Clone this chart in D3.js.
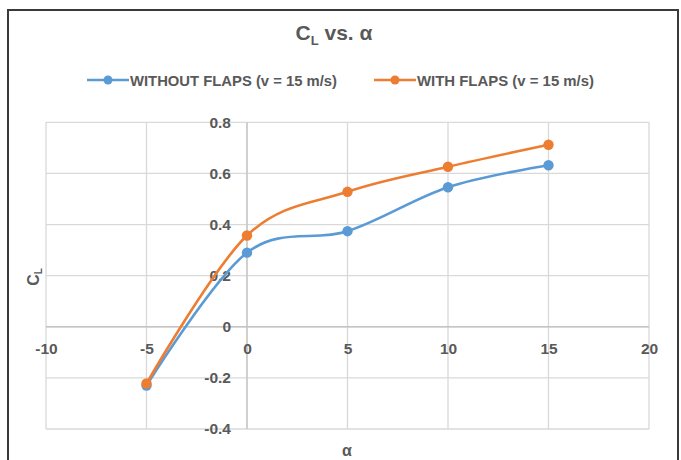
<!DOCTYPE html>
<html>
<head>
<meta charset="utf-8">
<script src="https://cdn.jsdelivr.net/npm/d3@7"></script>
<style>
  html, body { margin: 0; padding: 0; background: #fff; }
  svg { display: block; }
  text { font-family: "Liberation Sans Narrow", "Liberation Sans", Arial, sans-serif; font-weight: bold; fill: #595959; }
</style>
</head>
<body>
<svg id="chart" width="681" height="460"></svg>
<script>
// Angle of attack (degrees)
const alpha = [-5, 0, 5, 10, 15];
// Lift coefficient, no flaps
const clWithoutFlaps = [-0.23, 0.29, 0.374, 0.546, 0.632];
// Lift coefficient, flaps deployed
const clWithFlaps = [-0.222, 0.357, 0.528, 0.626, 0.712];

const seriesNames = ["WITHOUT FLAPS (v = 15 m/s)", "WITH FLAPS (v = 15 m/s)"];
const seriesColors = ["#5B9BD5", "#ED7D31"];

const xTicks = [-10, -5, 0, 5, 10, 15, 20];
const yTicks = [-0.4, -0.2, 0, 0.2, 0.4, 0.6, 0.8];

const svg = d3.select("#chart");

// outer frame
svg.append("rect")
  .attr("x", 8).attr("y", 10)
  .attr("width", 670).attr("height", 460)
  .attr("fill", "#fff")
  .attr("stroke", "#3a3a3a")
  .attr("stroke-width", 2);

const x = d3.scaleLinear().domain([-10, 20]).range([46, 649]);
const y = d3.scaleLinear().domain([-0.4, 0.8]).range([429, 122.3]);

// gridlines
const grid = svg.append("g").attr("stroke", "#d9d9d9").attr("stroke-width", 1.3);
grid.selectAll("line.h").data(yTicks).join("line")
  .attr("x1", x(-10)).attr("x2", x(20))
  .attr("y1", d => y(d)).attr("y2", d => y(d));
grid.selectAll("line.v").data(xTicks).join("line")
  .attr("y1", y(-0.4)).attr("y2", y(0.8))
  .attr("x1", d => x(d)).attr("x2", d => x(d));

// axes crossing at the origin
svg.append("line")
  .attr("x1", x(-10)).attr("x2", x(20))
  .attr("y1", y(0)).attr("y2", y(0))
  .attr("stroke", "#c4c4c4").attr("stroke-width", 1.3);
svg.append("line")
  .attr("x1", x(0)).attr("x2", x(0))
  .attr("y1", y(-0.4)).attr("y2", y(0.8))
  .attr("stroke", "#c4c4c4").attr("stroke-width", 1.3);

// plain hyphen for negatives
const fmtY = d => d === 0 ? "0" : d.toFixed(1);
const fmtX = d => String(d);

// y tick labels, sitting left of the vertical axis
const yAxis = d3.axisLeft(y).tickValues(yTicks).tickFormat(fmtY).tickSize(0).tickPadding(16);
const gy = svg.append("g").attr("transform", `translate(${x(0)},0)`).call(yAxis);
gy.select(".domain").remove();
gy.attr("font-family", null).attr("font-size", null);
gy.selectAll("text").attr("font-size", 15.5).attr("fill", "#595959");

// x tick labels, below the horizontal axis
const xAxis = d3.axisBottom(x).tickValues(xTicks).tickFormat(fmtX).tickSize(0).tickPadding(16);
const gx = svg.append("g").attr("transform", `translate(0,${y(0)})`).call(xAxis);
gx.select(".domain").remove();
gx.attr("font-family", null).attr("font-size", null);
gx.selectAll("text").attr("font-size", 15.5).attr("fill", "#595959");

// series
const series = [clWithoutFlaps, clWithFlaps].map((vals, i) => ({
  name: seriesNames[i],
  color: seriesColors[i],
  points: alpha.map((a, j) => ({ a, cl: vals[j] }))
}));

const line = d3.line()
  .x(d => x(d.a))
  .y(d => y(d.cl))
  .curve(d3.curveCatmullRom.alpha(0));

const sg = svg.append("g").selectAll("g").data(series).join("g");
sg.append("path")
  .attr("d", d => line(d.points))
  .attr("fill", "none")
  .attr("stroke", d => d.color)
  .attr("stroke-width", 2.6)
  .attr("stroke-linecap", "round");
sg.selectAll("circle").data(d => d.points.map(p => ({ ...p, color: d.color }))).join("circle")
  .attr("cx", d => x(d.a)).attr("cy", d => y(d.cl))
  .attr("r", 5.2)
  .attr("fill", d => d.color);

// title
const title = svg.append("text")
  .attr("x", 334).attr("y", 40)
  .attr("text-anchor", "middle")
  .attr("font-size", 21);
title.append("tspan").text("C");
title.append("tspan").attr("font-size", 13).attr("dy", 5).text("L");
title.append("tspan").attr("dy", -5).text(" vs. α");

// legend
const legendItems = [
  { x0: 87, tx: 130, w: 207 },
  { x0: 374, tx: 417, w: 177 }
];
const lg = svg.append("g").selectAll("g").data(series).join("g");
lg.append("line")
  .attr("x1", (d, i) => legendItems[i].x0).attr("x2", (d, i) => legendItems[i].x0 + 42)
  .attr("y1", 80).attr("y2", 80)
  .attr("stroke", d => d.color).attr("stroke-width", 2.6);
lg.append("circle")
  .attr("cx", (d, i) => legendItems[i].x0 + 21).attr("cy", 80)
  .attr("r", 4.5).attr("fill", d => d.color);
lg.append("text")
  .attr("x", (d, i) => legendItems[i].tx).attr("y", 85.5)
  .attr("font-size", 15)
  .attr("textLength", (d, i) => legendItems[i].w)
  .attr("lengthAdjust", "spacingAndGlyphs")
  .text(d => d.name);

// axis titles
const yt = svg.append("text")
  .attr("transform", "translate(39,277) rotate(-90)")
  .attr("text-anchor", "middle")
  .attr("font-size", 16);
yt.append("tspan").text("C");
yt.append("tspan").attr("font-size", 10).attr("dy", 3).text("L");

svg.append("text")
  .attr("x", 347).attr("y", 456)
  .attr("text-anchor", "middle")
  .attr("font-size", 16)
  .text("α");
</script>
</body>
</html>
